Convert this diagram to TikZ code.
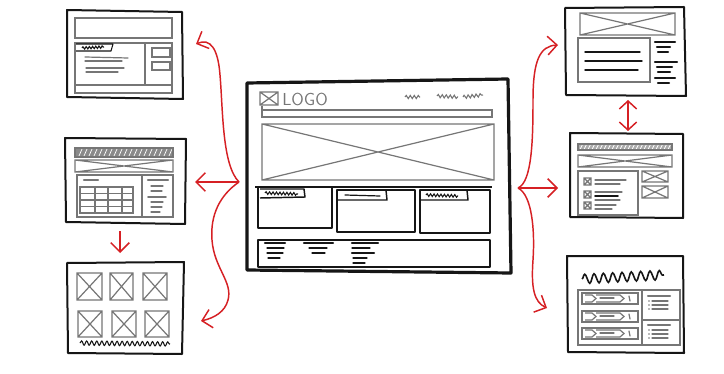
\documentclass[tikz,border=0pt]{standalone}
\usetikzlibrary{arrows.meta,decorations.pathmorphing}
\definecolor{sketchred}{RGB}{214,32,36}
\definecolor{ink}{RGB}{22,22,22}
\definecolor{pencil}{RGB}{118,118,118}
\def\xrect(#1,#2)(#3,#4){\draw[pen] (#1,#2) rectangle (#3,#4) (#1,#2) -- (#3,#4) (#1,#4) -- (#3,#2);}
\begin{document}
\begin{tikzpicture}[x=0.75pt,y=-0.75pt,
  frame/.style={draw=ink,line width=1.5pt,line join=round},
  bigframe/.style={draw=ink,line width=2.4pt,line join=round},
  pen/.style={draw=pencil,line width=0.9pt},
  card/.style={draw=ink,line width=1.1pt,line join=round},
  bar/.style={draw=ink,line width=1.7pt,line cap=round},
  txt/.style={draw=pencil,line width=0.9pt,line cap=round},
  dtxt/.style={draw=ink,line width=0.9pt,line cap=round},
  scrib/.style={draw=ink,line width=0.8pt,decorate,decoration={snake,amplitude=1.3pt,segment length=3.2pt}},
  redline/.style={draw=sketchred,line width=1.1pt},
  redarrow/.style={draw=sketchred,line width=1.1pt,-{Straight Barb[length=7pt,width=14pt]}},
  reddouble/.style={draw=sketchred,line width=1.1pt,{Straight Barb[length=6pt,width=13pt]}-{Straight Barb[length=6pt,width=13pt]}}]
\useasboundingbox (0,0) rectangle (724,374);
\fill[white] (0,0) rectangle (724,374);

% ================= MAIN PAGE =================
\draw[bigframe] (247,83) -- (508,79) -- (511,273) -- (247,270) -- cycle;
\xrect(260,92)(278,105)
\node[text=pencil,font=\sffamily\fontsize{13}{13}\selectfont,anchor=west,inner sep=0pt] (logo) at (282,99) {LOGO};
\draw[scrib,draw=pencil,decoration={amplitude=1.2pt,segment length=3pt}] (405,97) -- (420,97);
\draw[scrib,draw=pencil,decoration={amplitude=1.2pt,segment length=3pt}] (437,96) -- (458,97);
\draw[scrib,draw=pencil,decoration={amplitude=1.2pt,segment length=3pt}] (463,97) -- (483,95);
\draw[pen] (262,110) rectangle (492,117);
\draw[pen] (262,110) -- (262,106);
\xrect(262,124)(494,180)
\draw[draw=ink,line width=1.2pt] (255,187) -- (492,187);
% cards
\draw[card] (258,187) rectangle (332,228);
\draw[card] (260,189) -- (304,189) -- (305,197) -- (260,198);
\draw[scrib,decoration={amplitude=1pt,segment length=2.6pt}] (265,193) -- (298,194);
\draw[card] (337,190) rectangle (415,232);
\draw[card] (337,190) -- (386,190) -- (387,200) -- (337,200);
\draw[dtxt] (345,195) -- (380,196);
\draw[card] (420,190) rectangle (490,233);
\draw[card] (420,190) -- (467,190) -- (468,200) -- (420,200);
\draw[scrib,decoration={amplitude=1pt,segment length=2.6pt}] (426,195) -- (458,196);
% footer
\draw[card] (258,240) -- (490,240) -- (490,267) -- (258,267) -- cycle;
\draw[bar] (265,243) -- (285,243);
\draw[dtxt] (267,248) -- (284,248);
\draw[dtxt] (267,253) -- (283,253);
\draw[dtxt] (268,258) -- (280,258);
\draw[bar] (304,243) -- (333,243);
\draw[dtxt] (309,248) -- (327,248);
\draw[dtxt] (312,253) -- (325,253);
\draw[bar] (352,243) -- (378,243);
\draw[dtxt] (352,248) -- (370,248);
\draw[bar] (352,253) -- (374,253);
\draw[dtxt] (353,258) -- (367,258);
\draw[dtxt] (353,263) -- (365,263);

% ================= LEFT TOP =================
\draw[frame] (67,10) -- (182,12) -- (183,99) -- (67,97) -- cycle;
\draw[pen] (75,18) rectangle (172,38);
\draw[pen] (75,43) rectangle (172,93);
\draw[pen] (145,43) -- (145,85);
\draw[pen] (75,85) -- (172,85);
\draw[card,line width=0.8pt] (76,44) -- (113,44) -- (111,51) -- (76,51);
\draw[scrib,decoration={amplitude=0.9pt,segment length=2.4pt}] (82,48) -- (104,47);
\draw[txt] (85,57) -- (128,58);
\draw[txt] (85,61) -- (122,61);
\draw[txt] (86,68) -- (124,68);
\draw[txt] (86,72) -- (118,72);
\draw[pen] (152,48) rectangle (170,57);
\draw[pen] (152,62) rectangle (170,70);

% ================= LEFT MIDDLE =================
\draw[frame] (65,138) -- (186,139) -- (185,224) -- (66,222) -- cycle;
\fill[pencil!85] (75,148) rectangle (173,157);
\foreach \i in {0,...,18} {\draw[white,line width=0.5pt] ({79+5*\i},156) -- ({82+5*\i},149);}
\draw[pen] (75,148) rectangle (173,157);
\xrect(75,160)(173,172)
\draw[pen] (77,175) rectangle (173,217);
\draw[pen] (142,175) -- (142,217);
\draw[draw=pencil,line width=1.6pt,line cap=round] (84,180) -- (98,180);
\draw[draw=pencil,line width=1.6pt,line cap=round] (148,180) -- (168,180);
\draw[pen] (80,187) rectangle (133,213);
\foreach \x in {95,108,122} {\draw[pen] (\x,187) -- (\x,213);}
\foreach \y in {193.5,200,206.5} {\draw[pen] (80,\y) -- (133,\y);}
\draw[txt] (151,186) -- (163,186);
\draw[txt] (151,191) -- (162,191);
\draw[draw=pencil,line width=1.4pt,line cap=round] (148,197) -- (166,197);
\draw[txt] (151,202) -- (163,202);
\draw[txt] (151,207) -- (162,207);
\draw[txt] (151,212) -- (160,212);

% ================= LEFT BOTTOM =================
\draw[frame] (67,263) -- (184,262) -- (182,354) -- (68,353) -- cycle;
\xrect(77,273)(102,300)
\xrect(110,273)(133,300)
\xrect(143,273)(167,300)
\xrect(78,311)(102,337)
\xrect(112,311)(136,337)
\xrect(145,311)(169,337)
\draw[scrib,decoration={amplitude=1.6pt,segment length=3.8pt}] (80,343) -- (170,344);

% ================= RIGHT TOP =================
\draw[frame] (565,8) -- (684,7) -- (686,96) -- (566,95) -- cycle;
\xrect(580,13)(675,35)
\draw[pen] (578,38) rectangle (650,82);
\draw[dtxt,line width=1.1pt] (585,52) -- (640,52);
\draw[dtxt,line width=1.1pt] (585,61) -- (642,61);
\draw[dtxt,line width=1.1pt] (585,70) -- (638,70);
\draw[bar] (655,42) -- (675,42);
\draw[bar] (657,47) -- (670,47);
\draw[bar] (658,52) -- (668,52);
\draw[bar] (655,62) -- (677,62);
\draw[bar] (657,67) -- (672,67);
\draw[bar] (658,72) -- (670,72);
\draw[bar] (655,78) -- (675,78);
\draw[bar] (658,83) -- (669,83);

% ================= RIGHT MIDDLE =================
\draw[frame] (570,133) -- (683,134) -- (683,218) -- (570,217) -- cycle;
\fill[pencil!60] (578,144) rectangle (672,150);
\foreach \i in {0,...,22} {\draw[white,line width=0.6pt] ({580+4*\i},149.5) -- ({582.5+4*\i},144.5);}
\draw[pen] (578,144) rectangle (672,150);
\xrect(578,155)(672,167)
\draw[pen] (578,171) rectangle (638,215);
\xrect(642,171)(668,182)
\xrect(642,186)(668,198)
\xrect(584,178)(591,185)
\xrect(584,191)(591,198)
\xrect(584,202)(591,209)
\draw[txt] (595,180) -- (626,180);
\draw[txt] (595,184) -- (620,184);
\draw[txt] (595,192) -- (622,192);
\draw[dtxt,line width=1.2pt] (595,196) -- (618,196);
\draw[txt] (595,200) -- (620,200);
\draw[txt] (595,205) -- (616,205);
\draw[txt] (595,209) -- (612,209);

% ================= RIGHT BOTTOM =================
\draw[frame] (567,256) -- (683,256) -- (684,353) -- (568,352) -- cycle;
\draw[draw=ink,line width=1.2pt,decorate,decoration={snake,amplitude=3.5pt,segment length=7pt}] (582,279) -- (664,275);
\draw[pen] (578,290) rectangle (680,345);
\draw[pen] (642,290) -- (642,345);
\draw[pen] (642,320) -- (680,320);
\foreach \y in {293,311,328} {
  \draw[pen] (582,\y) rectangle (638,\y+11);
  \draw[pen] (585,\y+2) -- (592,\y+2) -- (596,\y+5.5) -- (592,\y+9) -- (585,\y+9);
  \draw[pen] (596,\y+2) -- (620,\y+2) -- (624,\y+5.5) -- (620,\y+9) -- (596,\y+9);
  \draw[txt] (600,\y+5) -- (614,\y+5);
  \draw[txt] (629,\y+3) -- (630,\y+8);
}
\draw[draw=pencil,line width=1.6pt,line cap=round] (648,296) -- (670,296);
\foreach \y in {301,305,309} {\fill[pencil] (649,\y) circle (0.9); \draw[txt] (652,\y) -- (668,\y);}
\draw[draw=pencil,line width=1.6pt,line cap=round] (648,325) -- (670,325);
\foreach \y in {330,334,338} {\fill[pencil] (649,\y) circle (0.9); \draw[txt] (652,\y) -- (668,\y);}

% ================= RED CONNECTORS =================
\coordinate (jl) at (239,182);
\coordinate (lt) at (196,44);
\coordinate (lm) at (195,182);
\coordinate (lb) at (201,321);
\coordinate (jr) at (518,188);
\coordinate (rt) at (558,45);
\coordinate (rm) at (558,188);
\coordinate (rb) at (547,308);
\coordinate (ldt) at (120,231);
\coordinate (ldb) at (120,253);
\coordinate (rdt) at (628,100);
\coordinate (rdb) at (628,131);

\draw[redarrow] (jl) .. controls (222,165) and (223,110) .. (220,75) .. controls (218,48) and (210,38) .. (lt);
\draw[redarrow] (jl) -- (lm);
\draw[redarrow] (jl) .. controls (220,195) and (210,215) .. (212,240) .. controls (214,268) and (233,282) .. (228,300) .. controls (225,312) and (214,318) .. (lb);
\draw[redarrow] (jr) .. controls (532,182) and (533,140) .. (533,100) .. controls (533,60) and (540,46) .. (rt);
\draw[redarrow] (jr) -- (rm);
\draw[redarrow] (jr) .. controls (532,195) and (535,230) .. (533,260) .. controls (531,288) and (534,302) .. (rb);
\draw[redarrow] (ldt) -- (ldb);
\draw[reddouble] (rdt) -- (rdb);
\end{tikzpicture}
\end{document}
